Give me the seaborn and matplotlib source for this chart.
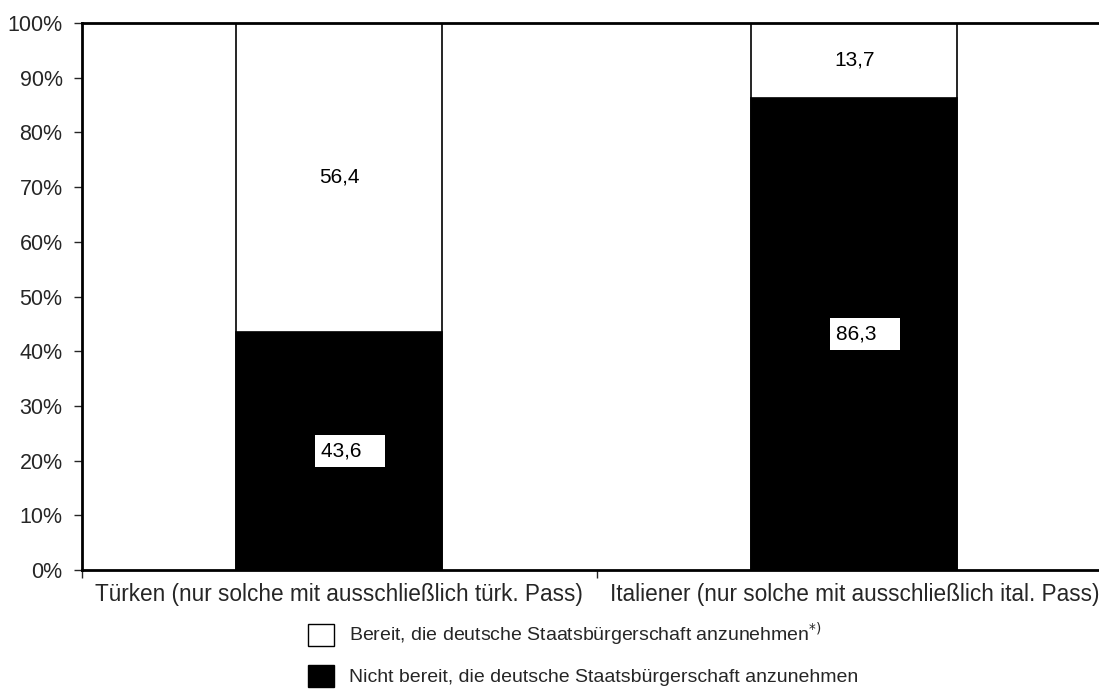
import matplotlib
matplotlib.use('Agg')
import matplotlib.pyplot as plt
from matplotlib.patches import Patch
import seaborn as sns
import pandas as pd

categories = ['Türken (nur solche mit ausschließlich türk. Pass)',
              'Italiener (nur solche mit ausschließlich ital. Pass)']
bereit = [56.4, 13.7]
nicht_bereit = [43.6, 86.3]
bereit_labels = ['56,4', '13,7']
nicht_labels = ['43,6', '86,3']
yticks = list(range(0, 101, 10))

sns.set_style('white')
plt.rcParams['font.family'] = ['Liberation Sans', 'DejaVu Sans']

df = pd.DataFrame({'Gruppe': categories, 'Bereit': bereit, 'Nicht': nicht_bereit})
df['Gesamt'] = df['Bereit'] + df['Nicht']

fig = plt.figure(figsize=(10.99, 6.89), dpi=100)
ax = fig.add_axes([0.0746, 0.1727, 0.937, 0.7939])

# white (top) part drawn as full stack, black part over it
sns.barplot(data=df, x='Gruppe', y='Gesamt', color='white', edgecolor='black',
            linewidth=1.2, width=0.40, ax=ax, saturation=1)
sns.barplot(data=df, x='Gruppe', y='Nicht', color='black', edgecolor='black',
            linewidth=1.2, width=0.40, ax=ax, saturation=1)

for i in range(len(categories)):
    ax.text(i, nicht_bereit[i] + bereit[i] / 2, bereit_labels[i], ha='center', va='center',
            fontsize=15, color='black')
    ax.text(i - 0.036, nicht_bereit[i] / 2, nicht_labels[i] + '   ', ha='left', va='center',
            fontsize=15, color='black',
            bbox=dict(boxstyle='square,pad=0.3', facecolor='white', edgecolor='none'))

ax.set_xlim(-0.5, 1.5)
ax.set_ylim(0, 100)
ax.set_yticks(yticks)
ax.set_yticklabels([f'{t}%' for t in yticks], fontsize=15.5)
ax.set_xticks([-0.5, 0.5, 1.5])
ax.set_xticklabels([])
ax.set_xticks([0, 1], minor=True)
ax.set_xticklabels(categories, minor=True, fontsize=16.3)
ax.tick_params(axis='x', which='major', direction='out', length=6, width=1, bottom=True)
ax.tick_params(axis='x', which='minor', length=0, pad=9)
ax.tick_params(axis='y', direction='out', length=6, width=1, left=True, pad=8)
ax.set_xlabel('')
ax.set_ylabel('')

for side in ['left', 'bottom', 'top']:
    ax.spines[side].set_visible(True)
    ax.spines[side].set_color('black')
ax.spines['left'].set_linewidth(2)
ax.spines['bottom'].set_linewidth(2)
ax.spines['top'].set_linewidth(2)
ax.spines['right'].set_visible(False)

handles = [Patch(facecolor='white', edgecolor='black', linewidth=1),
           Patch(facecolor='black', edgecolor='black', linewidth=1)]
labels = ['Bereit, die deutsche Staatsbürgerschaft anzunehmen$^{*)}$',
          'Nicht bereit, die deutsche Staatsbürgerschaft anzunehmen']
fig.legend(handles, labels, loc='upper left', bbox_to_anchor=(0.273, 0.11),
           frameon=False, fontsize=14, handlelength=1.35, handleheight=1.35,
           labelspacing=0.85, handletextpad=0.75, borderaxespad=0)

fig.savefig('out.png', dpi=100)
